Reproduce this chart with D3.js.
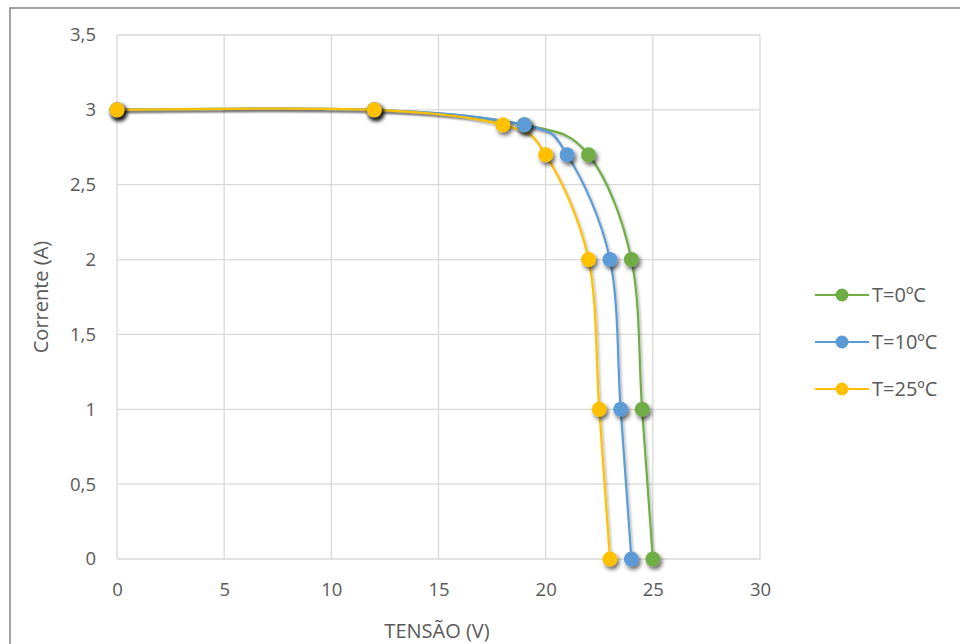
<!DOCTYPE html>
<html><head><meta charset="utf-8">
<script src="https://cdn.jsdelivr.net/npm/d3@7"></script>
<style>body{margin:0;background:#fff}svg{display:block;font-family:"Open Sans","Noto Sans",sans-serif}</style>
</head><body><svg id="c" width="960" height="644"></svg>
<script>
const seriesNames = ["T=0ºC","T=10ºC","T=25ºC"];
const seriesColors = ["#70AD47","#5B9BD5","#FFC000"];
const voltage0 = [0,12,19,22,24,24.5,25];
const current0 = [3,3,2.9,2.7,2,1,0];
const voltage10 = [0,12,19,21,23,23.5,24];
const current10 = [3,3,2.9,2.7,2,1,0];
const voltage25 = [0,12,18,20,22,22.5,23];
const current25 = [3,3,2.9,2.7,2,1,0];
const xTicks = [0,5,10,15,20,25,30];
const yTicks = [0,0.5,1,1.5,2,2.5,3,3.5];
const xTitle = "TENSÃO (V)", yTitle = "Corrente (A)";

const series = [
  {name:seriesNames[0], color:seriesColors[0], pts:voltage0.map((v,i)=>[v,current0[i]])},
  {name:seriesNames[1], color:seriesColors[1], pts:voltage10.map((v,i)=>[v,current10[i]])},
  {name:seriesNames[2], color:seriesColors[2], pts:voltage25.map((v,i)=>[v,current25[i]])}
];
const svg = d3.select("#c");
const defs = svg.append("defs");
const f = defs.append("filter").attr("id","sh").attr("x","-50%").attr("y","-50%").attr("width","200%").attr("height","200%");
f.append("feDropShadow").attr("dx",2).attr("dy",3).attr("stdDeviation",2).attr("flood-color","#000").attr("flood-opacity",0.6);
const fl = defs.append("filter").attr("id","shl").attr("x","-10%").attr("y","-10%").attr("width","120%").attr("height","120%");
fl.append("feDropShadow").attr("dx",1.5).attr("dy",2).attr("stdDeviation",1.2).attr("flood-color","#000").attr("flood-opacity",0.3);

svg.append("rect").attr("x",10).attr("y",8).attr("width",980).attr("height",700)
  .attr("fill","#fff").attr("stroke","#8c8c8c").attr("stroke-width",1.6);

const x = d3.scaleLinear().domain([0,30]).range([117,760]);
const y = d3.scaleLinear().domain([0,3.5]).range([559,35]);

const g = svg.append("g");
g.selectAll(".gx").data(xTicks).join("line").attr("x1",d=>x(d)).attr("x2",d=>x(d)).attr("y1",y(0)).attr("y2",y(3.5)).attr("stroke","#d9d9d9").attr("stroke-width",1.3);
g.selectAll(".gy").data(yTicks).join("line").attr("y1",d=>y(d)).attr("y2",d=>y(d)).attr("x1",x(0)).attr("x2",x(30)).attr("stroke","#d9d9d9").attr("stroke-width",1.3);

const fmt = d=> String(d).replace(".",",");
const xAxis = svg.append("g").attr("transform",`translate(0,${y(0)})`).call(d3.axisBottom(x).tickValues(xTicks).tickFormat(fmt).tickSize(0).tickPadding(24));
const yAxis = svg.append("g").attr("transform",`translate(${x(0)},0)`).call(d3.axisLeft(y).tickValues(yTicks).tickFormat(fmt).tickSize(0).tickPadding(21));
[xAxis,yAxis].forEach(a=>{a.select(".domain").remove();a.selectAll("text").attr("fill","#595959").style("font-size","18.5px").style("font-family","'Open Sans','Noto Sans',sans-serif");});

svg.append("text").attr("x",437).attr("y",638).attr("text-anchor","middle").attr("fill","#595959").style("font-size","20px").text(xTitle);
svg.append("text").attr("transform","translate(48,297) rotate(-90)").attr("text-anchor","middle").attr("fill","#595959").style("font-size","20px").text(yTitle);

const line = d3.line().x(d=>x(d[0])).y(d=>y(d[1])).curve(d3.curveCardinal.tension(0));
series.forEach(s=>{
  svg.append("path").datum(s.pts).attr("d",line).attr("fill","none").attr("stroke",s.color).attr("stroke-width",2.2).attr("filter","url(#shl)");
});
series.forEach(s=>{
  svg.append("g").selectAll("circle").data(s.pts).join("circle").attr("cx",d=>x(d[0])).attr("cy",d=>y(d[1])).attr("r",7.5).attr("fill",s.color).attr("filter","url(#sh)");
});

const lg = svg.append("g");
series.forEach((s,i)=>{
  const yy = 295 + i*47;
  lg.append("line").attr("x1",815).attr("x2",869).attr("y1",yy).attr("y2",yy).attr("stroke",s.color).attr("stroke-width",2.2);
  lg.append("circle").attr("cx",842).attr("cy",yy).attr("r",6.5).attr("fill",s.color);
  lg.append("text").attr("x",872).attr("y",yy+7).attr("fill","#595959").style("font-size","20px").text(s.name);
});
</script></body></html>
